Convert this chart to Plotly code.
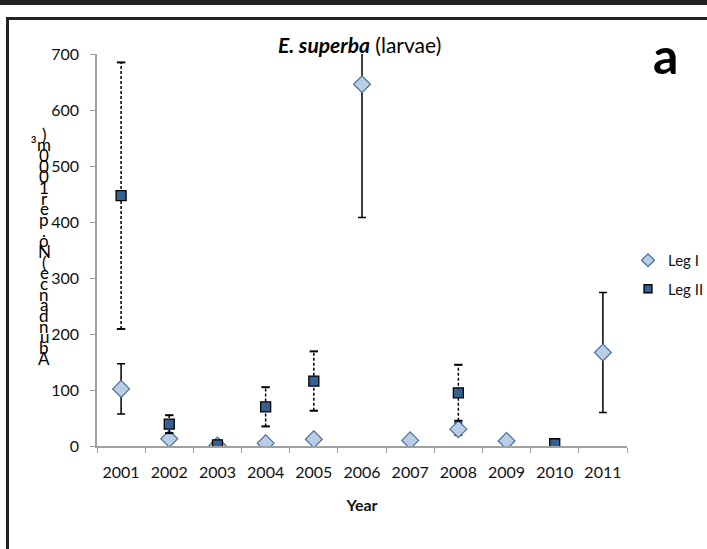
import plotly.graph_objects as go

years = ["2001", "2002", "2003", "2004", "2005", "2006", "2007", "2008", "2009", "2010", "2011"]
leg1 = [102, 13, 1, 5, 12, 646, 10, 30, 9, None, 167]
leg1_err = [45, 0, 0, 0, 0, 238, 0, 11, 0, None, 107]
leg2 = [447, 39, 2, 70, 116, None, None, 95, None, 4, None]
leg2_err = [238, 16, 0, 35, 53, None, None, 50, None, 0, None]
ytitle_chars = [")", "m", "0", "0", "0", "1", "r", "e", "p", ".", "o", "N", "(",
                "e", "c", "n", "a", "d", "n", "u", "b", "A"]

FONT = "Lato"
W, H = 707, 549
L, R, T, B = 97, 627, 54, 446


def px(x):
    return (x - L) / (R - L)


def py(y):
    return (B - y) / (B - T)


fig = go.Figure()

fig.add_trace(go.Scatter(
    x=years, y=leg1, mode="markers", name="Leg I", showlegend=False,
    marker=dict(symbol="diamond", size=13, color="#B9CDE5",
                line=dict(color="#4A6F9C", width=1.2)),
    error_y=dict(type="data", array=leg1_err, visible=True,
                 color="black", thickness=1.5, width=4),
))

# dashed error bars for Leg II
ex, ey, cx, cy = [], [], [], []
for yr, v, e in zip(years, leg2, leg2_err):
    if v is None or not e:
        continue
    ex += [yr, yr, None]
    ey += [v - e, v + e, None]
    cx += [yr, yr]
    cy += [v - e, v + e]
fig.add_trace(go.Scatter(x=ex, y=ey, mode="lines", showlegend=False,
                         line=dict(color="black", width=1.5, dash="3px,2px"),
                         hoverinfo="skip"))
fig.add_trace(go.Scatter(x=cx, y=cy, mode="markers", showlegend=False,
                         marker=dict(symbol="line-ew", size=6,
                                     line=dict(color="black", width=2)),
                         hoverinfo="skip"))

fig.add_trace(go.Scatter(
    x=years, y=leg2, mode="markers", name="Leg II", showlegend=False,
    marker=dict(symbol="square", size=10, color="#376092",
                line=dict(color="black", width=1.3)),
))

# legend-only entries (smaller symbols, as in the reference)
fig.add_trace(go.Scatter(x=[None], y=[None], mode="markers", name="Leg I",
                         legendgroup="g1",
                         marker=dict(symbol="diamond", size=10, color="#B9CDE5",
                                     line=dict(color="#4A6F9C", width=1.2))))
fig.add_trace(go.Scatter(x=[None], y=[None], mode="markers", name="Leg II",
                         legendgroup="g2",
                         marker=dict(symbol="square", size=8, color="#376092",
                                     line=dict(color="black", width=1.3))))

axis_common = dict(showgrid=False, zeroline=False, showline=True,
                   linecolor="#A0A0A0", linewidth=1.5, ticks="outside",
                   tickcolor="#A0A0A0", tickwidth=1.2, ticklen=5,
                   tickfont=dict(family=FONT, size=16, color="#111"))

fig.update_xaxes(type="category", categoryorder="array", categoryarray=years,
                 range=[-0.5, 10.5], tickson="boundaries",
                 ticklabelstandoff=11,
                 title=dict(text="<b>Year</b>", font=dict(family=FONT, size=16, color="#111"),
                            standoff=20),
                 **axis_common)
fig.update_yaxes(range=[0, 700], tickvals=[0, 100, 200, 300, 400, 500, 600, 700],
                 ticklabelstandoff=8, **axis_common)

ann = []


def add_text(x, y, text, size, **kw):
    ann.append(dict(x=px(x), y=py(y), xref="paper", yref="paper",
                    xanchor="center", yanchor="middle",
                    text=text, showarrow=False,
                    font=dict(family=FONT, size=size, color="black"), **kw))


add_text(359, 44, "<b><i>E. superba</i></b> (larvae)", 21)
add_text(665, 55, "<b>a</b>", 50)
n = len(ytitle_chars)
top_y, bot_y = 134, 358
for i, ch in enumerate(ytitle_chars):
    yy = top_y + (bot_y - top_y) * i / (n - 1)
    add_text(44, yy, ch, 17)
add_text(33, 139, "<b>3</b>", 9)

shapes = [
    dict(type="rect", xref="paper", yref="paper", x0=px(0), x1=px(707),
         y0=py(0), y1=py(5), fillcolor="#222", line=dict(width=0)),
    dict(type="line", xref="paper", yref="paper", x0=px(6), x1=px(707),
         y0=py(18.5), y1=py(18.5), line=dict(color="#222", width=3)),
    dict(type="line", xref="paper", yref="paper", x0=px(7.5), x1=px(7.5),
         y0=py(17), y1=py(549), line=dict(color="#222", width=3)),
]

fig.update_layout(
    width=W, height=H,
    margin=dict(l=L, r=W - R, t=T, b=H - B, pad=0, autoexpand=False),
    paper_bgcolor="white", plot_bgcolor="white",
    showlegend=True,
    legend=dict(x=px(628), y=py(244), xanchor="left", yanchor="top",
                font=dict(family=FONT, size=15, color="#111"),
                bgcolor="rgba(0,0,0,0)", tracegroupgap=6,
                itemwidth=30),
    annotations=ann, shapes=shapes,
)

fig.write_html("out.html")
